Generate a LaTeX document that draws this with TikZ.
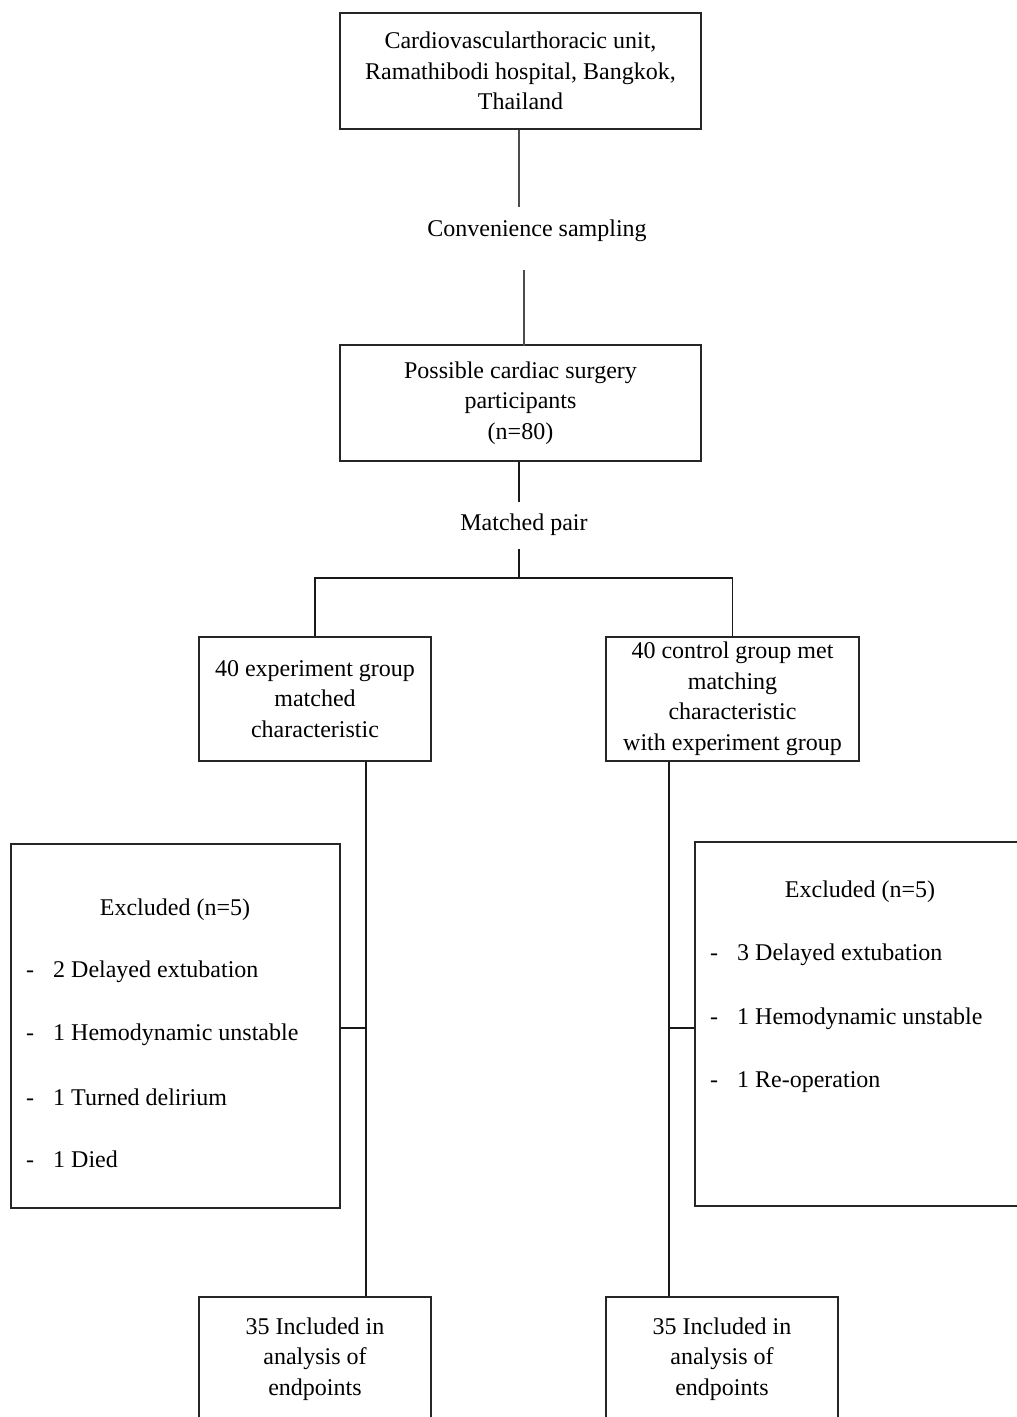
\documentclass[tikz,border=0pt]{standalone}
\usepackage{fontspec}
\setmainfont{Liberation Serif}
\newcommand{\fsz}{\fontsize{24}{30.5}\selectfont}
\begin{document}
\begin{tikzpicture}[x=1pt,y=-1pt,
  box/.style={draw=black!85, line width=1.6pt, align=center, font=\fsz, inner sep=0pt},
  conn/.style={line width=1.6pt, draw=black!90},
  txt/.style={font=\fsz, inner sep=0pt, text height=17pt, text depth=5pt},
  item/.style={txt, anchor=west}]
\path[use as bounding box] (0,0) rectangle (1017,1417);
\clip (0,0) rectangle (1017,1417);

% boxes
\node[box, minimum width=361pt, minimum height=116pt] (top) at (520.5,71)
  {\raisebox{-2pt}{\parbox{350pt}{\centering Cardiovascularthoracic unit,\\Ramathibodi hospital, Bangkok,\\Thailand}}};
\node[box, minimum width=361pt, minimum height=116pt] (poss) at (520.5,403)
  {\raisebox{-2pt}{\parbox{350pt}{\centering Possible cardiac surgery\\participants\\(n=80)}}};
\node[box, minimum width=232pt, minimum height=124pt] (expg) at (315,699)
  {\raisebox{-2pt}{\parbox{225pt}{\centering 40 experiment group\\matched\\characteristic}}};
\node[box, minimum width=253pt, minimum height=124pt] (ctrl) at (732.5,699)
  {\raisebox{-2pt}{\parbox{248pt}{\centering 40 control group met\\matching\\characteristic\\with experiment group}}};
\node[box, minimum width=329pt, minimum height=364pt] (exL) at (175.5,1026) {};
\node[box, minimum width=335pt, minimum height=364pt] (exR) at (862.5,1024) {};
\node[box, minimum width=232pt, minimum height=124pt] (botL) at (315,1359)
  {\raisebox{-2pt}{\parbox{225pt}{\centering 35 Included in\\analysis of\\endpoints}}};
\node[box, minimum width=232pt, minimum height=124pt] (botR) at (722,1359)
  {\raisebox{-2pt}{\parbox{225pt}{\centering 35 Included in\\analysis of\\endpoints}}};

% labels
\node[txt] (conv) at (537,230) {Convenience sampling};
\node[txt] (mp) at (524,524) {Matched pair};

% excluded lists
\node[txt] (hL) at (175,909) {Excluded (n=5)};
\node[item] (l1) at (26,971) {\makebox[27pt][l]{-}2 Delayed extubation};
\node[item] (l2) at (26,1034) {\makebox[27pt][l]{-}1 Hemodynamic unstable};
\node[item] (l3) at (26,1099) {\makebox[27pt][l]{-}1 Turned delirium};
\node[item] (l4) at (26,1161) {\makebox[27pt][l]{-}1 Died};

\node[txt] (hR) at (860,891) {Excluded (n=5)};
\node[item] (r1) at (710,954) {\makebox[27pt][l]{-}3 Delayed extubation};
\node[item] (r2) at (710,1018) {\makebox[27pt][l]{-}1 Hemodynamic unstable};
\node[item] (r3) at (710,1081) {\makebox[27pt][l]{-}1 Re-operation};

% helper coordinates
\coordinate (c1) at (519,207);
\coordinate (c2) at (524,270);
\coordinate (c3) at (524,346);
\coordinate (m1) at (519,502);
\coordinate (m2) at (519,549);
\coordinate (split) at (519,578);
\coordinate (vL) at (366,0);
\coordinate (vR) at (669,0);

% connectors
\draw[conn, draw=black!70] (top.south -| c1) -- (c1);
\draw[conn, draw=black!70] (c2) -- (c3);
\draw[conn] (poss.south -| m1) -- (m1);
\draw[conn] (m2) -- (split);
\draw[conn] (expg.north) |- (split) -| (ctrl.north);
\draw[conn] (expg.south -| vL) -- (botL.north -| vL);
\draw[conn] (ctrl.south -| vR) -- (botR.north -| vR);
\draw[conn] (exL.east |- 0,1028) -- (vL |- 0,1028);
\draw[conn] (exR.west |- 0,1028) -- (vR |- 0,1028);
\end{tikzpicture}
\end{document}
